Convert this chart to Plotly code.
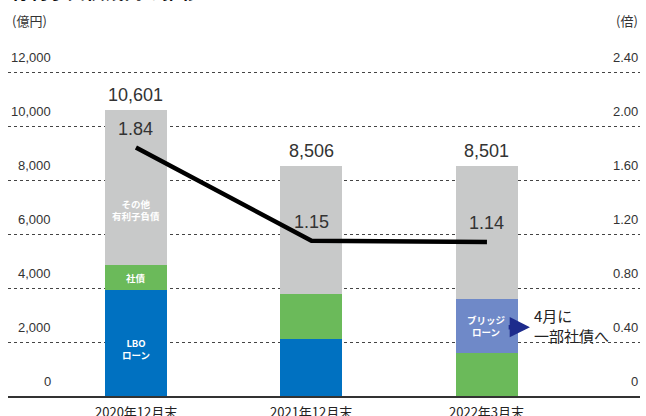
import plotly.graph_objects as go

categories = ["2020年12月末", "2021年12月末", "2022年3月末"]
lbo_loan = [3920, 2110, 0]
bonds = [930, 1670, 1590]
bridge_loan = [0, 0, 2000]
other_debt = [5751, 4726, 4911]
totals = [10601, 8506, 8501]
ratio = [1.84, 1.15, 1.14]
left_ticks = [0, 2000, 4000, 6000, 8000, 10000, 12000]
right_ticks = ["0", "0.40", "0.80", "1.20", "1.60", "2.00", "2.40"]

x = list(range(len(categories)))
BLUE = "#0071c1"
GREEN = "#6bba5a"
GRAY = "#c8c9c9"
BRIDGE = "#6f89c8"
NUM_FONT = "Liberation Sans, Arial, sans-serif"
JP_FONT = "Noto Sans CJK JP, sans-serif"
BW = 0.353
PLOT_H = 351  # plot-area height in px (416 - 45 - 20)

fig = go.Figure()
for vals, col in [(lbo_loan, BLUE), (bonds, GREEN), (bridge_loan, BRIDGE), (other_debt, GRAY)]:
    fig.add_trace(go.Bar(x=x, y=vals, marker=dict(color=col, line=dict(width=0)),
                         width=BW, showlegend=False, hoverinfo="skip"))

fig.add_trace(go.Scatter(x=x, y=ratio, yaxis="y2", mode="lines",
                         line=dict(color="black", width=4.5), showlegend=False))

ann = []
# left tick labels (above gridlines)
for v in left_ticks:
    ann.append(dict(x=(53 - 8) / 632, xref="paper", y=v, yref="y", text=f"{v:,}",
                    xanchor="right", yanchor="middle", yshift=15, showarrow=False,
                    font=dict(family=NUM_FONT, size=13, color="#333")))
for v, t in zip(left_ticks, right_ticks):
    ann.append(dict(x=1, xref="paper", y=v, yref="y", text=t,
                    xanchor="right", yanchor="middle", yshift=15, showarrow=False,
                    font=dict(family=NUM_FONT, size=13, color="#333")))
# category labels under the axis
for xi, c in zip(x, categories):
    ann.append(dict(x=xi, y=-4 / PLOT_H, yref="paper", text=c, xanchor="center",
                    yanchor="top", showarrow=False,
                    font=dict(family=JP_FONT, size=13, color="#222")))
# unit labels
ann.append(dict(x=0.003, xref="paper", y=1.07, yref="paper", text="(億円)", xanchor="left",
                yanchor="middle", showarrow=False, font=dict(family=JP_FONT, size=13, color="#333")))
ann.append(dict(x=1, xref="paper", y=1.07, yref="paper", text="(倍)", xanchor="right",
                yanchor="middle", showarrow=False, font=dict(family=JP_FONT, size=13, color="#333")))
# cut-off title
ann.append(dict(x=0.0, xref="paper", y=(396 - 6) / PLOT_H, yref="paper",
                text="<b>有利子負債残高の推移</b>",
                xanchor="left", yanchor="bottom", showarrow=False,
                font=dict(family=JP_FONT, size=19, color="#111")))
# totals
for xi, t in zip(x, totals):
    ann.append(dict(x=xi, y=t, text=f"{t:,}", yanchor="bottom", yshift=3, showarrow=False,
                    font=dict(family=NUM_FONT, size=18, color="#333")))
# ratio labels
for xi, r in zip(x, ratio):
    ann.append(dict(x=xi, y=r, yref="y2", text=f"{r:.2f}", yanchor="middle", yshift=19,
                    showarrow=False, font=dict(family=NUM_FONT, size=18, color="#333")))
# in-bar labels
inbar = [
    (0, 6900, "その他<br>有利子負債"),
    (0, lbo_loan[0] + bonds[0] / 2, "社債"),
    (0, 1750, "LBO<br>ローン"),
    (2, bonds[2] + bridge_loan[2] / 2, "ブリッジ<br>ローン"),
]
for xi, yi, t in inbar:
    ann.append(dict(x=xi, y=yi, text=f"<b>{t}</b>", showarrow=False, yanchor="middle",
                    font=dict(family=JP_FONT, size=9.5, color="white")))
# arrow + note
ann.append(dict(x=2.245, y=2550, ax=2.115, ay=2550, axref="x", ayref="y", xref="x", yref="y",
                text="", showarrow=True, arrowhead=2, arrowsize=0.9, arrowwidth=4.5,
                arrowcolor="#1d2b8c"))
ann.append(dict(x=2.255, y=2600, text="4月に<br>一部社債へ", xanchor="left", align="left",
                yanchor="middle", showarrow=False,
                font=dict(family=JP_FONT, size=15, color="#222")))

fig.update_layout(
    width=646, height=416, autosize=False,
    margin=dict(l=8, r=6, t=45, b=20),
    paper_bgcolor="white", plot_bgcolor="white",
    barmode="stack", bargap=0,
    annotations=ann,
    xaxis=dict(range=[-0.729, 2.872], tickvals=x, showticklabels=False,
               showline=True, linecolor="#333", linewidth=2, showgrid=False,
               ticks="", zeroline=False),
    yaxis=dict(range=[0, 13000], tickvals=left_ticks[1:], showticklabels=False,
               showgrid=True, gridcolor="#444", griddash="dot", gridwidth=1, zeroline=False),
    yaxis2=dict(range=[0, 2.6], overlaying="y", side="right", showticklabels=False,
                showgrid=False, zeroline=False),
)

fig.write_html("out.html", config={"responsive": False, "displayModeBar": False},
               post_script="document.body.style.margin='0';document.body.style.overflow='hidden';")
